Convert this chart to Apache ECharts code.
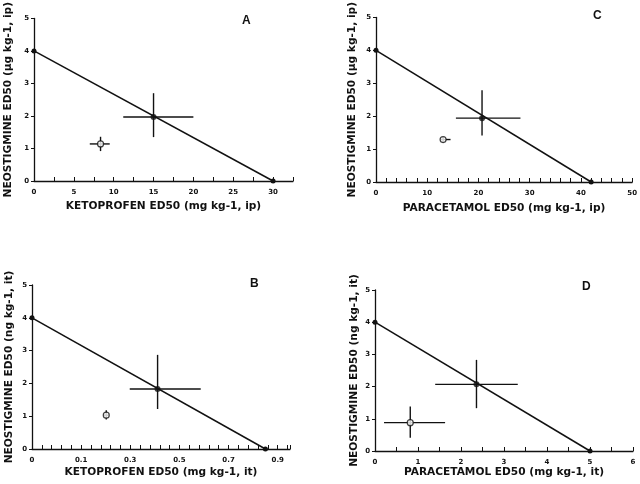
<!DOCTYPE html>
<html>
<head>
<meta charset="utf-8">
<script src="https://cdn.jsdelivr.net/npm/echarts@6/dist/echarts.min.js"></script>
<style>html,body{margin:0;padding:0;background:#fff}#c{width:640px;height:484px}</style>
</head>
<body>
<div id="c"></div>
<script>
// ---------- data ----------
const panelLetters = ['A', 'B', 'C', 'D'];
const xTitles = ['KETOPROFEN ED50 (mg kg-1, ip)', 'KETOPROFEN ED50 (mg kg-1, it)', 'PARACETAMOL ED50 (mg kg-1, ip)', 'PARACETAMOL ED50 (mg kg-1, it)'];
const yTitles = ['NEOSTIGMINE ED50 (\u03bcg kg-1, ip)', 'NEOSTIGMINE ED50 (ng kg-1, it)', 'NEOSTIGMINE ED50 (\u03bcg kg-1, ip)', 'NEOSTIGMINE ED50 (ng kg-1, it)'];
const xTickLabelsB = ['0', '0.1', '0.3', '0.5', '0.7', '0.9'];
const yTicks = [0, 1, 2, 3, 4, 5];

// isobologram lines: [x, y] endpoints
const isoA = [[0, 4], [30, 0]];
const isoB = [[0, 4], [0.855, 0]];
const isoC = [[0, 4], [42, 0]];
const isoD = [[0, 4], [5, 0]];

// points: [x, y, xLow, xHigh, yLow, yHigh]
const theoA = [15, 1.97, 11.2, 20.0, 1.35, 2.70];
const exprA = [8.35, 1.14, 7.0, 9.5, 0.92, 1.36];
const theoB = [0.46, 1.83, 0.358, 0.618, 1.22, 2.87];
const exprB = [0.272, 1.03, 0.262, 0.282, 0.90, 1.18];
const theoC = [20.7, 1.94, 15.6, 28.2, 1.41, 2.79];
const exprC = [13.1, 1.29, 12.6, 14.55, 1.21, 1.37];
const theoD = [2.36, 2.07, 1.40, 3.32, 1.33, 2.83];
const exprD = [0.82, 0.88, 0.21, 1.63, 0.41, 1.38];

// ---------- layout ----------
const grids = [
  {left: 34, top: 16, width: 259, height: 165},
  {left: 32, top: 285, width: 258, height: 164},
  {left: 376, top: 16, width: 257, height: 166},
  {left: 375, top: 290, width: 258, height: 161}
];
const xCfg = [
  {max: 32.5, interval: 5, split: 2, gap: 19.5},
  {max: 0.945, interval: 0.18, split: 5, gap: 17.5, labels: xTickLabelsB},
  {max: 50, interval: 10, split: 5, gap: 21},
  {max: 6, interval: 1, split: 2, gap: 15}
];
const yGaps = [20, 17.5, 18, 15];
const isos = [isoA, isoB, isoC, isoD];
const theos = [theoA, theoB, theoC, theoD];
const exprs = [exprA, exprB, exprC, exprD];

const INK = '#111';
const tickFont = {fontFamily: 'DejaVu Sans', fontWeight: 'bold', fontSize: 7, color: INK};
const nameFont = {fontFamily: 'DejaVu Sans', fontWeight: 'bold', fontSize: 10.6, color: INK};

const xAxis = xCfg.map((c, i) => ({
  type: 'value', gridIndex: i, min: 0, max: c.max, interval: c.interval,
  name: xTitles[i], nameLocation: 'middle', nameGap: c.gap, nameTextStyle: nameFont,
  axisLine: {show: true, lineStyle: {color: INK, width: 1.3}},
  axisTick: {show: true, inside: true, length: 4, lineStyle: {color: INK, width: 1}},
  minorTick: {show: true, splitNumber: c.split, length: 4, lineStyle: {color: INK, width: 1}},
  splitLine: {show: false},
  axisLabel: Object.assign({margin: 8, showMaxLabel: false, hideOverlap: false,
    formatter: c.labels ? (v) => { const k = Math.round(v / c.interval); return c.labels[k] !== undefined && Math.abs(k * c.interval - v) < 1e-6 ? c.labels[k] : ''; }
                        : (v) => String(v)}, tickFont)
}));
// last label for C & D are at the axis end — show max label there
xAxis[2].axisLabel.showMaxLabel = true;
xAxis[3].axisLabel.showMaxLabel = true;

const yAxis = grids.map((g, i) => ({
  type: 'value', gridIndex: i, min: yTicks[0], max: yTicks[yTicks.length - 1], interval: 1,
  name: yTitles[i], nameLocation: 'middle', nameGap: yGaps[i], nameTextStyle: nameFont,
  axisLine: {show: true, lineStyle: {color: INK, width: 1.3}},
  axisTick: {show: true, inside: false, length: 3, lineStyle: {color: INK, width: 1}},
  splitLine: {show: false},
  axisLabel: Object.assign({margin: 5}, tickFont)
}));

function errRender(params, api) {
  const x = api.value(0), y = api.value(1);
  const a = api.coord([api.value(2), y]), b = api.coord([api.value(3), y]);
  const c = api.coord([x, api.value(4)]), d = api.coord([x, api.value(5)]);
  const st = {stroke: INK, lineWidth: 1.4};
  return {type: 'group', children: [
    {type: 'line', shape: {x1: a[0], y1: a[1], x2: b[0], y2: b[1]}, style: st},
    {type: 'line', shape: {x1: c[0], y1: c[1], x2: d[0], y2: d[1]}, style: st}
  ]};
}

const series = [];
for (let i = 0; i < 4; i++) {
  series.push({type: 'line', xAxisIndex: i, yAxisIndex: i, data: isos[i], symbol: 'circle', symbolSize: 5,
    itemStyle: {color: INK}, lineStyle: {color: INK, width: 1.5}, animation: false, silent: true});
  series.push({type: 'custom', xAxisIndex: i, yAxisIndex: i, data: [theos[i], exprs[i]], renderItem: errRender,
    encode: {x: 0, y: 1}, animation: false, silent: true, z: 3});
  series.push({type: 'scatter', xAxisIndex: i, yAxisIndex: i, data: [theos[i].slice(0, 2)], symbol: 'circle', symbolSize: 6,
    itemStyle: {color: INK}, animation: false, silent: true, z: 4});
  series.push({type: 'scatter', xAxisIndex: i, yAxisIndex: i, data: [exprs[i].slice(0, 2)], symbol: 'circle', symbolSize: 6,
    itemStyle: {color: '#fff', borderColor: INK, borderWidth: 1.2}, animation: false, silent: true, z: 5});
}

const letterPos = [[242, 15], [250, 278], [593, 10], [582, 281]];
const graphic = panelLetters.map((L, i) => ({
  type: 'text', left: letterPos[i][0], top: letterPos[i][1],
  style: {text: L, font: 'bold 12px "Liberation Sans"', fill: INK}
}));

const chart = echarts.init(document.getElementById('c'), null, {renderer: 'canvas'});
chart.setOption({
  animation: false,
  backgroundColor: '#fff',
  grid: grids.map(g => Object.assign({containLabel: false}, g)),
  xAxis, yAxis, series, graphic
});
</script>
</body>
</html>
